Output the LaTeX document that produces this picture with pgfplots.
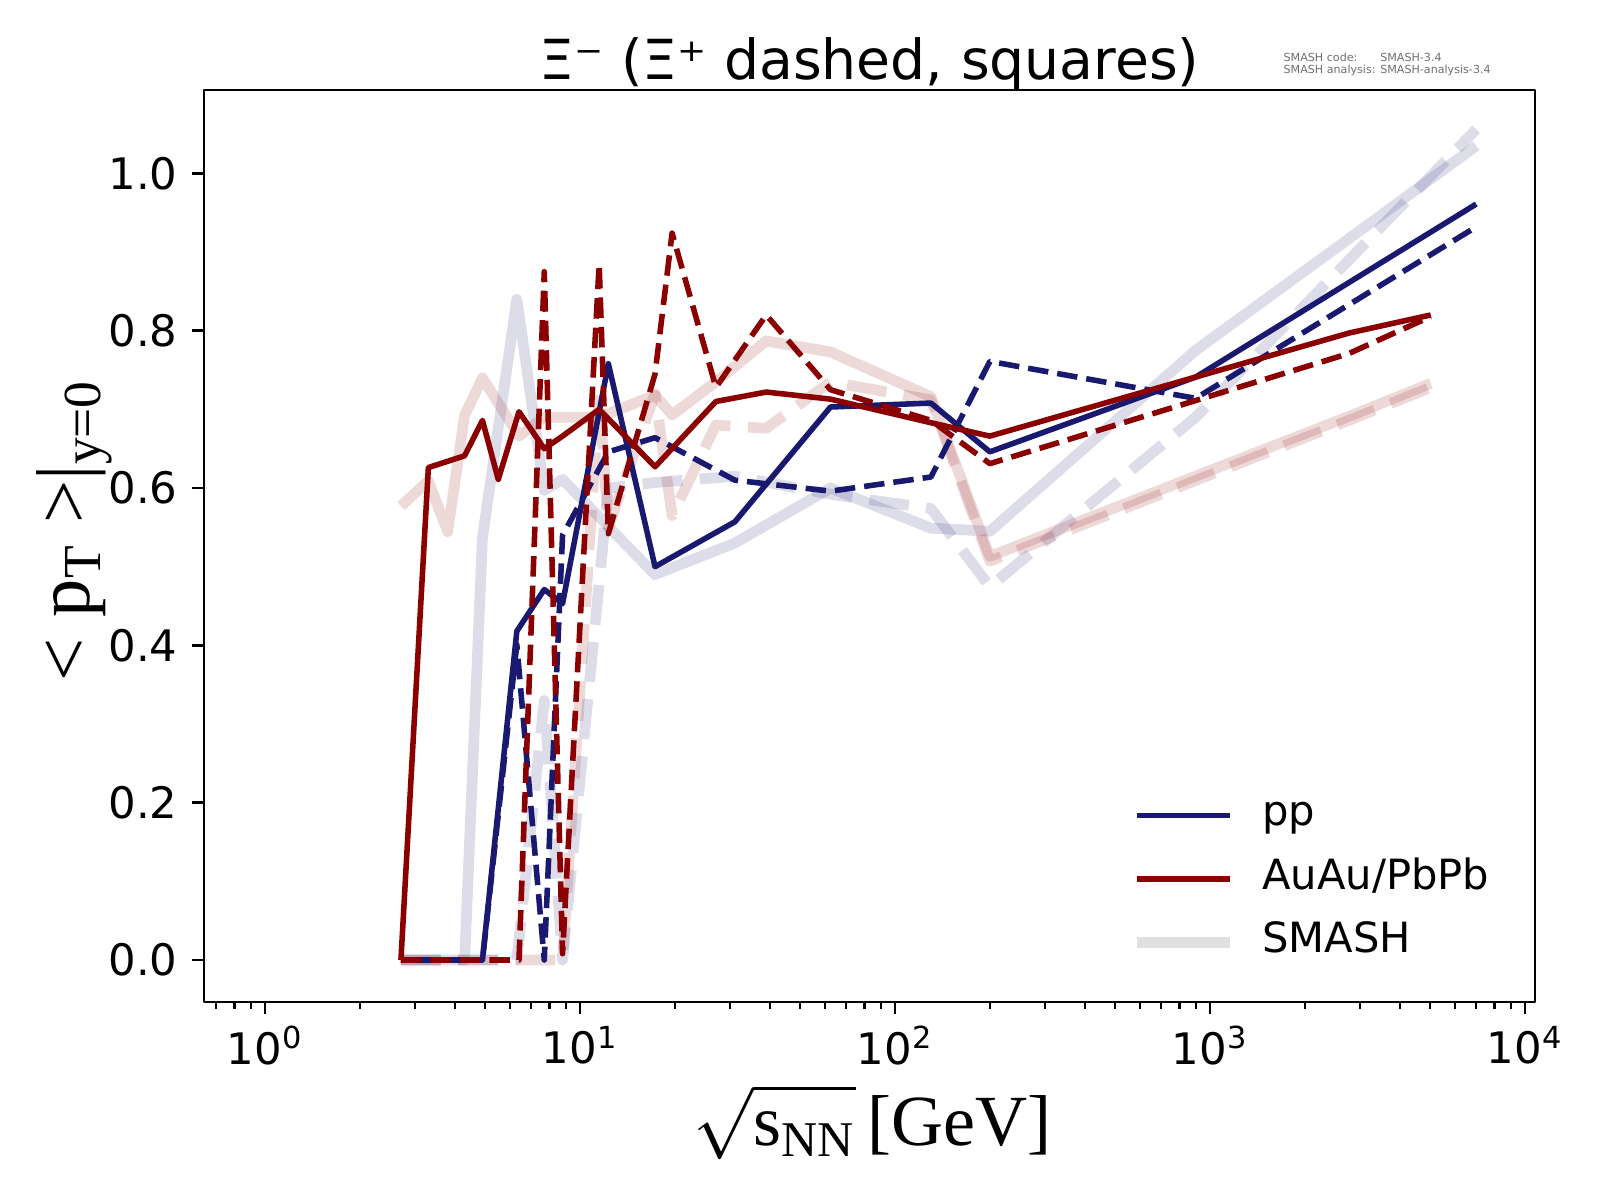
\documentclass[border=0pt]{standalone}
\usepackage[no-math]{fontspec}
\setmainfont{DejaVu Sans}
\newfontfamily\timesf{Liberation Serif}
\usepackage{pgfplots}
\pgfplotsset{compat=1.18}
\definecolor{navyc}{RGB}{25,25,112}
\definecolor{redc}{RGB}{139,0,0}
\definecolor{smashgray}{RGB}{224,224,224}
\definecolor{infogray}{RGB}{110,110,110}
\begin{document}
\begin{tikzpicture}
\useasboundingbox (0,0) rectangle (460.8pt,345.6pt);
\begin{axis}[
  at={(58.75pt,57.02pt)}, anchor=south west,
  width=383.33pt, height=262.66pt, scale only axis,
  xmode=log, xmin=0.64, xmax=10760, ymin=-0.0534, ymax=1.106,
  xtick={1,10,100,1000,10000},
  xticklabels={{10\textsuperscript{0}},{10\textsuperscript{1}},{10\textsuperscript{2}},{10\textsuperscript{3}},{10\textsuperscript{4}}},
  minor xtick={0.7,0.8,0.9,2,3,4,5,6,7,8,9,20,30,40,50,60,70,80,90,200,300,400,500,600,700,800,900,2000,3000,4000,5000,6000,7000,8000,9000},
  ytick={0,0.2,0.4,0.6,0.8,1.0},
  yticklabels={0.0,0.2,0.4,0.6,0.8,1.0},
  tick align=outside, xtick pos=left, ytick pos=left,
  major tick length=3.5pt, minor tick length=2pt,
  every tick/.style={black, line width=0.8pt},
  every minor tick/.style={black, line width=0.6pt},
  axis line style={line width=0.8pt},
  ticklabel style={font=\fontsize{12.5}{14}\selectfont},
  yticklabel style={xshift=-0.6pt},
  legend style={at={(axis description cs:0.697,0.2275)}, anchor=north west,
    draw=none, fill=none, font=\fontsize{12}{14}\selectfont,
    inner sep=0pt, outer sep=0pt, row sep=6.3pt,
    nodes={inner sep=0pt, text height=9pt, text depth=3pt},
    /tikz/every odd column/.style={column sep=7.8pt}},
  legend cell align=left,
  legend image code/.code={\draw[#1] (0pt,0pt) -- (26.7pt,0pt);},
  line join=round,
]
% SMASH pp Xi-
\addplot[forget plot, draw=navyc, draw opacity=0.15, line width=3.1pt] coordinates {
(2.7,0)(3.3,0)(4.3,0)(4.9,0.537)(6.3,0.840)(7.7,0.597)(8.8,0.611)(12.3,0.551)(17.3,0.490)(31,0.530)(62.4,0.600)(130,0.549)(200,0.545)(900,0.775)(7000,1.035)};
% SMASH pp Xi+
\addplot[forget plot, draw=navyc, draw opacity=0.15, line width=3.1pt, dash pattern=on 11.5pt off 5pt] coordinates {
(2.7,0)(3.3,0)(4.3,0)(4.9,0)(6.3,0)(7.7,0.33)(8.8,0)(12.3,0.60)(17.3,0.607)(31,0.615)(62.4,0.592)(130,0.574)(200,0.4745)(900,0.69)(7000,1.056)};
% SMASH AuAu Xi-
\addplot[forget plot, draw=redc, draw opacity=0.15, line width=3.1pt] coordinates {
(2.7,0.577)(3.3,0.609)(3.8,0.5445)(4.3,0.692)(4.9,0.740)(6.4,0.666)(7.7,0.690)(11.5,0.69)(17.3,0.718)(19.6,0.693)(27,0.735)(39,0.787)(62.4,0.773)(130,0.716)(200,0.513)(2760,0.691)(5020,0.733)};
% SMASH AuAu Xi+
\addplot[forget plot, draw=redc, draw opacity=0.15, line width=3.1pt, dash pattern=on 11.5pt off 5pt] coordinates {
(2.7,0)(3.3,0)(4.3,0)(4.9,0)(6.4,0)(7.7,0)(8.8,0)(11.5,0.72)(12.3,0.55)(17.3,0.72)(19.6,0.565)(27,0.68)(39,0.676)(62.4,0.735)(130,0.712)(200,0.507)(2760,0.686)(5020,0.728)};
% pp Xi-
\addplot[forget plot, draw=navyc, line width=1.6pt] coordinates {
(2.7,0)(3.3,0)(4.3,0)(4.9,0)(6.3,0.418)(7.7,0.471)(8.8,0.453)(12.3,0.758)(17.3,0.500)(31,0.557)(62.4,0.703)(130,0.708)(200,0.646)(900,0.741)(7000,0.961)};
% pp Xi+
\addplot[forget plot, draw=navyc, line width=1.6pt, dash pattern=on 5.9pt off 2.6pt] coordinates {
(2.7,0)(3.3,0)(4.3,0)(4.9,0)(6.3,0.401)(7.7,0)(8.8,0.540)(12.3,0.646)(17.3,0.664)(31,0.610)(62.4,0.596)(130,0.614)(200,0.761)(900,0.714)(7000,0.932)};
% AuAu Xi-
\addplot[forget plot, draw=redc, line width=1.6pt] coordinates {
(2.7,0)(3.3,0.626)(4.3,0.641)(4.9,0.686)(5.5,0.611)(6.4,0.697)(7.7,0.650)(8.8,0.666)(11.5,0.700)(17.3,0.627)(27,0.710)(39,0.722)(62.4,0.713)(130,0.683)(200,0.666)(2760,0.797)(5020,0.820)};
% AuAu Xi+
\addplot[forget plot, draw=redc, line width=1.6pt, dash pattern=on 5.9pt off 2.6pt] coordinates {
(2.7,0)(3.3,0)(4.3,0)(4.9,0)(5.5,0)(6.4,0)(7.7,0.875)(8.8,0.008)(11.5,0.885)(12.3,0.542)(17.3,0.745)(19.6,0.924)(27,0.728)(39,0.820)(62.4,0.725)(130,0.686)(200,0.631)(2760,0.771)(5020,0.818)};
\addlegendimage{draw=navyc, line width=1.6pt}
\addlegendentry{pp}
\addlegendimage{draw=redc, line width=1.6pt}
\addlegendentry{AuAu/PbPb}
\addlegendimage{draw=smashgray, line width=3.1pt}
\addlegendentry{SMASH}
\end{axis}
\node[anchor=base, font=\fontsize{15.9}{18}\selectfont] at (250.4pt,322.7pt) {Ξ⁻ (Ξ⁺ dashed, squares)};
\node[rotate=90] at (21.5pt,192.8pt) {\timesf\fontsize{22}{26}\selectfont <\;p\textsubscript{T}\;>|\textsubscript{y=0}};
\node at (251.3pt,22.5pt) {\timesf\fontsize{20.74}{24}\selectfont $\sqrt{\mbox{\vphantom{[}s\textsubscript{NN}}}$\,[GeV]};
\node[anchor=north west, inner sep=0pt, font=\fontsize{3.2}{3.7}\selectfont, text=infogray] at (369.5pt,330.8pt) {\begin{tabular}{@{}l@{ }l@{}}SMASH code: & SMASH-3.4\\ SMASH analysis: & SMASH-analysis-3.4\end{tabular}};
\end{tikzpicture}
\end{document}
